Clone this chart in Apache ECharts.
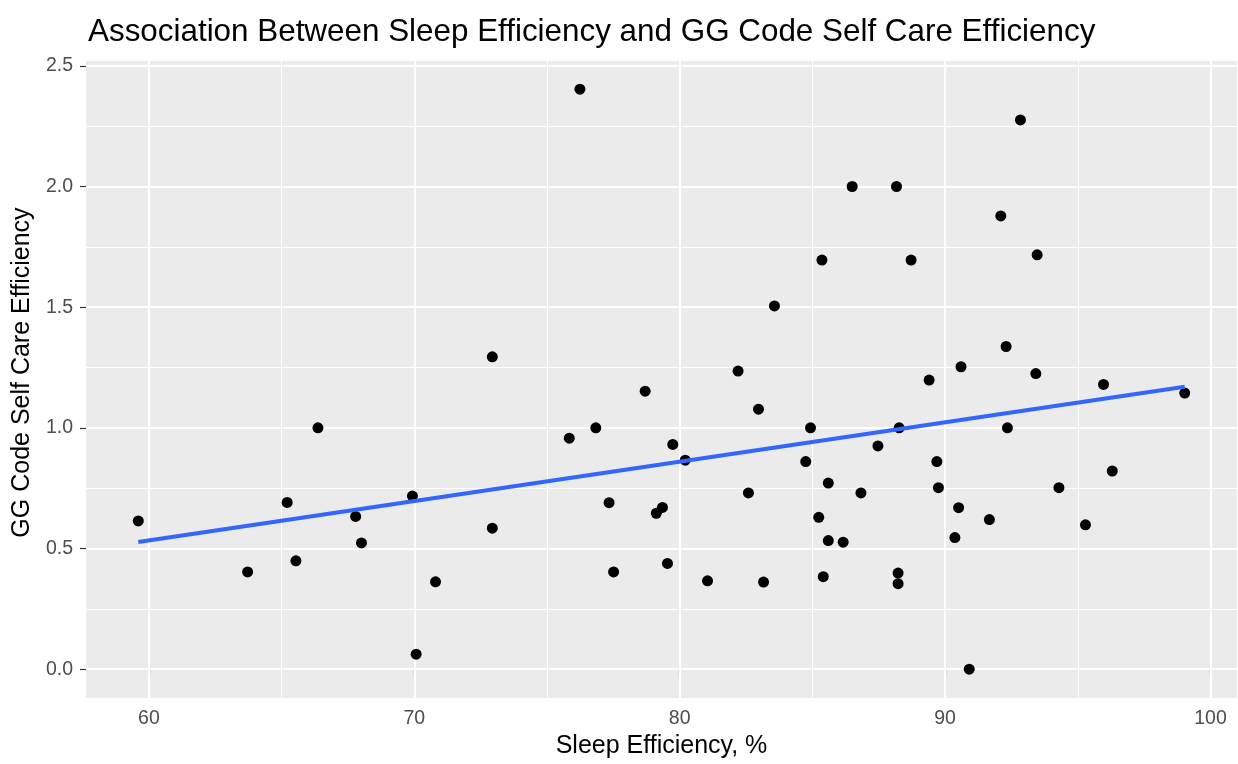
<!DOCTYPE html>
<html>
<head>
<meta charset="utf-8">
<script src="https://cdn.jsdelivr.net/npm/echarts@6/dist/echarts.min.js"></script>
<style>
  html, body { margin: 0; padding: 0; background: #ffffff; }
  #chart { width: 1238px; height: 764px; }
</style>
</head>
<body>
<div id="chart"></div>
<script>
// ---- data ----
const sleepEfficiency = [59.6, 63.72, 65.21, 65.54, 66.37, 67.79, 68.01, 69.93, 70.07, 70.80,
  72.94, 72.94, 76.24, 75.84, 76.84, 77.34, 77.51, 78.70, 79.12, 79.35,
  79.54, 79.74, 80.21, 81.05, 82.20, 82.59, 82.97, 83.16, 83.57, 84.75,
  84.93, 85.24, 85.36, 85.41, 85.60, 85.60, 86.16, 86.50, 86.83, 87.47,
  88.17, 88.27, 88.23, 88.23, 88.72, 89.40, 89.69, 89.75, 90.37, 90.60,
  90.51, 90.91, 91.67, 92.10, 92.30, 92.35, 92.84, 93.42, 93.47, 94.29,
  95.29, 95.97, 96.30, 99.03];
const selfCareEfficiency = [0.614, 0.403, 0.691, 0.449, 1.0, 0.633, 0.523, 0.717, 0.062, 0.362,
  1.294, 0.584, 2.403, 0.957, 1.0, 0.690, 0.403, 1.152, 0.646, 0.670,
  0.438, 0.931, 0.866, 0.366, 1.235, 0.730, 1.077, 0.361, 1.505, 0.860,
  1.0, 0.629, 1.695, 0.383, 0.771, 0.533, 0.526, 2.0, 0.730, 0.925,
  2.0, 1.0, 0.398, 0.354, 1.695, 1.198, 0.860, 0.752, 0.545, 1.253,
  0.669, 0.0, 0.620, 1.878, 1.337, 1.0, 2.276, 1.225, 1.717, 0.752,
  0.598, 1.180, 0.821, 1.144];
const fitX = [59.6, 99.03];
const fitY = [0.527, 1.170];
const xTicks = [60, 70, 80, 90, 100];
const xMinorTicks = [65, 75, 85, 95];
const yTicks = [0, 0.5, 1.0, 1.5, 2.0, 2.5];
const yMinorTicks = [0.25, 0.75, 1.25, 1.75, 2.25];
const titleText = 'Association Between Sleep Efficiency and GG Code Self Care Efficiency';
const xTitle = 'Sleep Efficiency, %';
const yTitle = 'GG Code Self Care Efficiency';

// ---- build ----
const points = sleepEfficiency.map((x, i) => [x, selfCareEfficiency[i]]);
const fitLine = fitX.map((x, i) => [x, fitY[i]]);
const FONT = '"Liberation Sans", Arial, Helvetica, sans-serif';

const gridLines = [];
xMinorTicks.forEach(v => gridLines.push({ xAxis: v, lineStyle: { width: 1 } }));
yMinorTicks.forEach(v => gridLines.push({ yAxis: v, lineStyle: { width: 1 } }));
xTicks.forEach(v => gridLines.push({ xAxis: v, lineStyle: { width: 2 } }));
yTicks.forEach(v => gridLines.push({ yAxis: v, lineStyle: { width: 2 } }));

const chart = echarts.init(document.getElementById('chart'), null, { renderer: 'canvas' });
chart.setOption({
  animation: false,
  backgroundColor: '#ffffff',
  textStyle: { fontFamily: FONT },
  title: {
    text: titleText,
    left: 83,
    top: 12,
    textStyle: { fontFamily: FONT, fontSize: 31.4, fontWeight: 'normal', color: '#000000' }
  },
  grid: {
    left: 86, right: 1, top: 61, bottom: 63,
    show: true, backgroundColor: '#EBEBEB', borderWidth: 0
  },
  xAxis: {
    type: 'value',
    min: 57.63, max: 101.0,
    name: xTitle,
    nameLocation: 'middle',
    nameGap: 35,
    nameTextStyle: { fontFamily: FONT, fontSize: 25, color: '#000000' },
    axisLine: { show: false },
    axisTick: { show: true, length: 6, customValues: xTicks, lineStyle: { color: '#333333', width: 1.2 } },
    axisLabel: { show: true, customValues: xTicks, margin: 11, fontFamily: FONT, fontSize: 19.5, color: '#4D4D4D' },
    splitLine: { show: false },
    minorSplitLine: { show: false }
  },
  yAxis: {
    type: 'value',
    min: -0.12, max: 2.52,
    name: yTitle,
    nameLocation: 'middle',
    nameGap: 47,
    nameTextStyle: { fontFamily: FONT, fontSize: 25, color: '#000000', padding: [0, 0, 0, 14] },
    axisLine: { show: false },
    axisTick: { show: true, length: 6, customValues: yTicks, lineStyle: { color: '#333333', width: 1.2 } },
    axisLabel: { show: true, customValues: yTicks, margin: 13, fontFamily: FONT, fontSize: 19.5, color: '#4D4D4D',
      formatter: v => Number(v).toFixed(1) },
    splitLine: { show: false },
    minorSplitLine: { show: false }
  },
  series: [
    {
      name: 'grid',
      type: 'line',
      data: [],
      silent: true,
      z: 1,
      markLine: {
        silent: true,
        z: 1,
        symbol: ['none', 'none'],
        label: { show: false },
        emphasis: { disabled: true },
        animation: false,
        lineStyle: { color: '#ffffff', type: 'solid', width: 2 },
        data: gridLines
      }
    },
    {
      name: 'points',
      type: 'scatter',
      data: points,
      symbol: 'circle',
      symbolSize: 11,
      z: 3,
      itemStyle: { color: '#000000', opacity: 1 }
    },
    {
      name: 'fit',
      type: 'line',
      data: fitLine,
      showSymbol: false,
      symbol: 'none',
      z: 4,
      lineStyle: { color: '#3366FF', width: 4 }
    }
  ]
});
</script>
</body>
</html>
